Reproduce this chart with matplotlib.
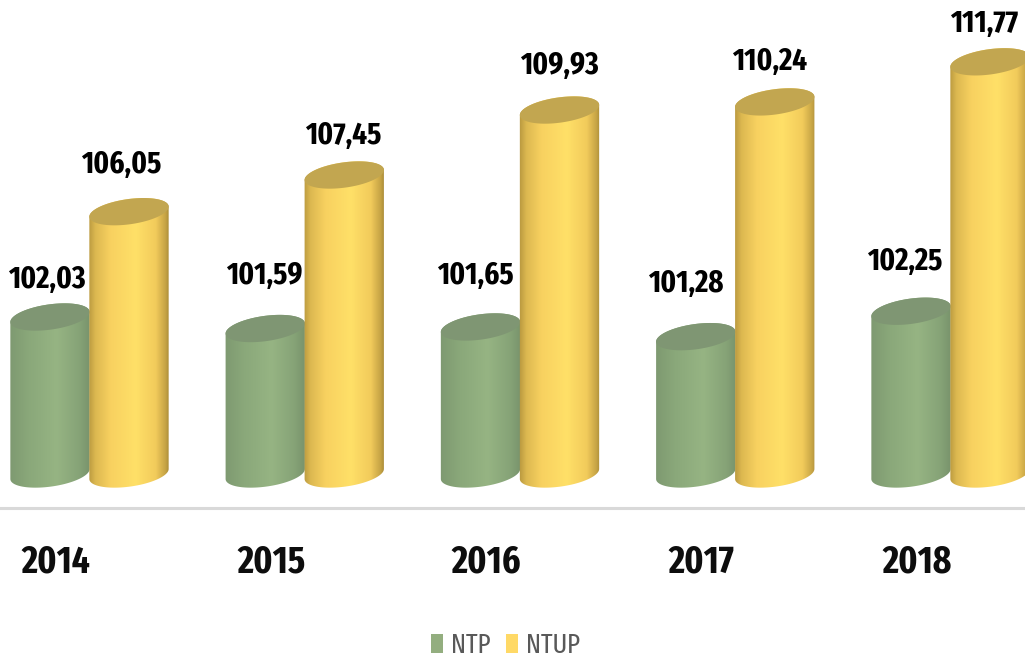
import numpy as np
import matplotlib
matplotlib.use("Agg")
import matplotlib.pyplot as plt
from matplotlib.colors import LinearSegmentedColormap
from matplotlib.patches import Polygon, Patch

years = ["2014", "2015", "2016", "2017", "2018"]
ntp = [102.03, 101.59, 101.65, 101.28, 102.25]
ntup = [106.05, 107.45, 109.93, 110.24, 111.77]
labels_ntp = ["102,03", "101,59", "101,65", "101,28", "102,25"]
labels_ntup = ["106,05", "107,45", "109,93", "110,24", "111,77"]

# layout (pixels)
W, H = 1025, 658
X0, STEP = 89.0, 215.25
PX_PER_UNIT = 26.2
Y_REF_V, Y_REF_PX = 102.03, 317.0
BASE_PX = 474.0
A, B, TILT = 40.0, 12.6, np.radians(8)
GREEN_DX, YELLOW_DX = -39.0, 40.0
ntp_lab_dx = [-42, -40, -44, -49, -45]
ntp_lab_up = [37, 53, 51, 53, 49]
ntup_lab_dx = [32, 39, 40, 35, 34]
ntup_lab_up = [47, 39, 44, 40, 38]

FONT = ["Fira Sans Extra Condensed", "Liberation Sans", "DejaVu Sans"]

fig = plt.figure(figsize=(W / 100, H / 100), dpi=100)
ax = fig.add_axes([0, 0, 1, 1])
xlim = (-X0 / STEP, (W - X0) / STEP)
ylim = (Y_REF_V - (H - Y_REF_PX) / PX_PER_UNIT, Y_REF_V + Y_REF_PX / PX_PER_UNIT)
dx = 1 / STEP
dy = 1 / PX_PER_UNIT
base_v = Y_REF_V - (BASE_PX - Y_REF_PX) / PX_PER_UNIT


def arc(cx, cy, t):
    x = A * np.cos(t) * np.cos(TILT) - B * np.sin(t) * np.sin(TILT)
    y = A * np.cos(t) * np.sin(TILT) + B * np.sin(t) * np.cos(TILT)
    return np.column_stack([cx + x * dx, cy + y * dy])


def cylinder(cx, value, cmap, top_color, z):
    tr = np.arctan2(-B * np.sin(TILT), A * np.cos(TILT))
    lower = arc(cx, base_v, np.linspace(tr + np.pi, tr + 2 * np.pi, 80))
    upper = arc(cx, value, np.linspace(tr, tr + np.pi, 80))
    body = Polygon(np.vstack([lower, upper]), closed=True, transform=ax.transData,
                   fc="none", ec="none")
    ax.add_patch(body)
    grad = np.linspace(0, 1, 256).reshape(1, -1)
    half = (A + 2) * dx
    im = ax.imshow(grad, extent=(cx - half, cx + half, base_v - 20 * dy, value + 20 * dy),
                   aspect="auto", cmap=cmap, zorder=z, interpolation="bilinear")
    im.set_clip_path(body)
    top = Polygon(arc(cx, value, np.linspace(0, 2 * np.pi, 160)), closed=True,
                  fc=top_color, ec="none", zorder=z + 0.1)
    ax.add_patch(top)


green_cm = LinearSegmentedColormap.from_list("g", [
    (0, "#7d9870"), (0.25, "#8aa87a"), (0.58, "#96b483"), (0.85, "#86a377"), (1, "#76906a")])
yellow_cm = LinearSegmentedColormap.from_list("y", [
    (0, "#b2923c"), (0.1, "#dcb850"), (0.28, "#f8d160"), (0.58, "#ffe068"),
    (0.82, "#f2cb5b"), (0.94, "#c4a244"), (1, "#9c8030")])

for i, (g, y) in enumerate(zip(ntp, ntup)):
    cylinder(i + GREEN_DX * dx, g, green_cm, "#7f9673", 2)
    cylinder(i + YELLOW_DX * dx, y, yellow_cm, "#c2a650", 3)
    ax.text(i + ntp_lab_dx[i] * dx, g + ntp_lab_up[i] * dy, labels_ntp[i], ha="center", va="center",
            family=FONT, weight="bold", fontsize=22.5, color="black", zorder=5)
    ax.text(i + ntup_lab_dx[i] * dx, y + ntup_lab_up[i] * dy, labels_ntup[i], ha="center", va="center",
            family=FONT, weight="bold", fontsize=22.5, color="black", zorder=5)
    ax.text(i - 33 * dx, Y_REF_V - (562 - Y_REF_PX) * dy, years[i], ha="center", va="center",
            family=FONT, weight="bold", fontsize=27.5, color="#0d0d0d", zorder=5)

ax.axhline(Y_REF_V - (507.5 - Y_REF_PX) * dy, color="#d9d9d9", lw=2.2, zorder=1)

ax.set_xlim(xlim)
ax.set_ylim(ylim)
ax.axis("off")

handles = [Patch(fc="#93ae7f", ec="none", label="NTP"), Patch(fc="#ffd966", ec="none", label="NTUP")]
fig.legend(handles=handles, loc="center", bbox_to_anchor=(505.5 / W, 1 - 645.5 / H), ncols=2,
           frameon=False, prop={"family": FONT, "size": 19.5}, labelcolor="#595959",
           handlelength=0.44, handleheight=0.7, handletextpad=0.3, columnspacing=0.6,
           borderpad=0, borderaxespad=0)

fig.savefig("out.png", dpi=100, facecolor="white")
